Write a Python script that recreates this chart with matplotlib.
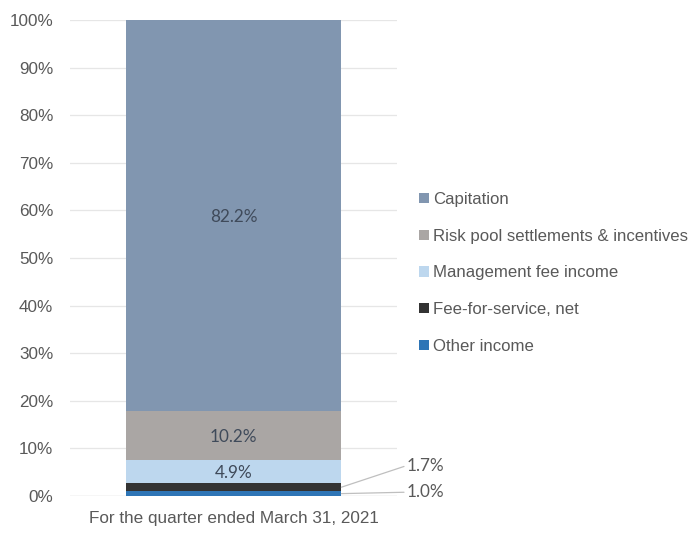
import matplotlib.pyplot as plt

category = "For the quarter ended March 31, 2021"

# stacked from bottom to top
segments = ["Other income", "Fee-for-service, net", "Management fee income",
            "Risk pool settlements & incentives", "Capitation"]
shares = [1.0, 1.7, 4.9, 10.2, 82.2]
colors = ["#2e75b6", "#333333", "#bdd7ee", "#aaa6a4", "#8196b0"]

plt.rcParams['font.family'] = ['Liberation Sans', 'DejaVu Sans']

fig = plt.figure(figsize=(6.91, 5.33), dpi=100)
ax = fig.add_axes([0.1013, 0.0694, 0.4732, 0.8931])

bar_w = 0.66
bottom = 0
bars = []
for name, val, col in zip(segments, shares, colors):
    b = ax.bar(0, val, bottom=bottom, width=bar_w, color=col, label=name, zorder=2)
    bars.append((b, bottom, val))
    bottom += val

# labels inside the larger segments
for b, base, val in bars:
    if val >= 4:
        ax.text(0, base + val / 2 - 0.3, f"{val:.1f}%", ha='center', va='center',
                fontsize=12.3, color='#3f4a5a', family='Lato')

# leader-line labels for the small segments
outside = [(bars[1], 6.4), (bars[0], 0.8)]
for (b, base, val), ty in outside:
    ax.annotate(f"{val:.1f}%", xy=(bar_w / 2, base + val / 2), xycoords='data',
                xytext=(0.53, ty), textcoords='data',
                ha='left', va='center', fontsize=12.3, color='#595959', family='Lato',
                annotation_clip=False,
                arrowprops=dict(arrowstyle='-', color='#bfbfbf', lw=0.9,
                                shrinkA=0, shrinkB=0, relpos=(0, 0.5)))

ax.set_xlim(-0.5, 0.5)
ax.set_ylim(0, 100)
ax.set_yticks(range(0, 101, 10))
ax.set_yticklabels([f"{t}%" for t in range(0, 101, 10)])
ax.set_xticks([0])
ax.set_xticklabels([category])
ax.yaxis.grid(True, color='#e6e6e6', lw=0.9, zorder=0)
ax.set_axisbelow(True)
for s in ax.spines.values():
    s.set_visible(False)
ax.axhline(0, color='#d9d9d9', lw=0.9, zorder=1)
ax.tick_params(length=0, labelsize=12.3, colors='#595959')
ax.tick_params(axis='y', pad=12)
ax.tick_params(axis='x', pad=11)

handles, labels = ax.get_legend_handles_labels()
leg = fig.legend(handles[::-1], labels[::-1], loc='center left',
                 bbox_to_anchor=(0.585, 0.488), frameon=False, fontsize=12.1,
                 handlelength=0.55, handleheight=0.55, handletextpad=0.25,
                 labelspacing=1.3, labelcolor='#595959')

fig.savefig("out.png", dpi=100)
